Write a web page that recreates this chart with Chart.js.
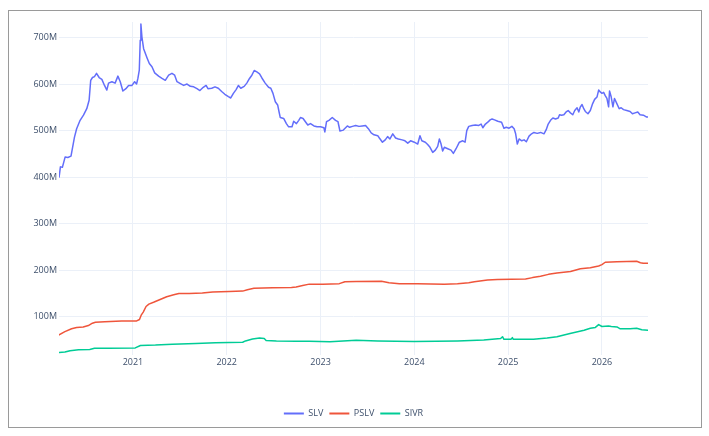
<!DOCTYPE html>
<html>
<head>
<meta charset="utf-8">
<script src="https://cdn.jsdelivr.net/npm/chart.js@4/dist/chart.umd.min.js"></script>
<style>
  html, body { margin: 0; padding: 0; background: #fff; }
  #wrap { position: relative; width: 709px; height: 436px; }
  #frame { position: absolute; left: 8px; top: 10px; width: 694px; height: 418px; border: 1px solid #9a9a9a; box-sizing: border-box; pointer-events: none; }
  canvas { position: absolute; left: 0; top: 0; }
</style>
</head>
<body>
<div id="wrap">
  <canvas id="c" width="709" height="436"></canvas>
  <div id="frame"></div>
</div>
<script>
// Series names
const seriesNames = ["SLV", "PSLV", "SIVR"];
const seriesColors = ["#636efa", "#EF553B", "#00cc96"];

// Tick labels
const yTickValues = [100, 200, 300, 400, 500, 600, 700]; // millions
const xTickYears = [2021, 2022, 2023, 2024, 2025, 2026];

// SLV (x = decimal year, y = millions)
const slvX = [2020.213,2020.227,2020.248,2020.277,2020.306,2020.34,2020.377,2020.40,2020.437,2020.473,2020.508,2020.533,2020.55,2020.569,2020.59,2020.612,2020.64,2020.669,2020.697,2020.722,2020.74,2020.776,2020.81,2020.84,2020.865,2020.893,2020.925,2020.954,2020.99,2021.018,2021.039,2021.053,2021.068,2021.078,2021.085,2021.096,2021.114,2021.132,2021.153,2021.175,2021.203,2021.232,2021.274,2021.31,2021.345,2021.381,2021.416,2021.445,2021.47,2021.506,2021.541,2021.577,2021.612,2021.648,2021.683,2021.714,2021.75,2021.78,2021.80,2021.84,2021.875,2021.91,2021.946,2021.98,2022.018,2022.043,2022.071,2022.1,2022.125,2022.15,2022.186,2022.214,2022.243,2022.268,2022.293,2022.321,2022.35,2022.375,2022.41,2022.446,2022.47,2022.493,2022.518,2022.543,2022.557,2022.571,2022.607,2022.636,2022.66,2022.696,2022.714,2022.743,2022.768,2022.786,2022.814,2022.839,2022.864,2022.893,2022.93,2022.964,2023.0,2023.036,2023.046,2023.064,2023.09,2023.125,2023.16,2023.186,2023.207,2023.243,2023.286,2023.31,2023.34,2023.375,2023.41,2023.445,2023.48,2023.51,2023.54,2023.57,2023.61,2023.627,2023.66,2023.69,2023.715,2023.74,2023.77,2023.80,2023.83,2023.87,2023.9,2023.93,2023.96,2024.0,2024.036,2024.06,2024.08,2024.117,2024.142,2024.167,2024.196,2024.224,2024.249,2024.267,2024.285,2024.302,2024.32,2024.356,2024.391,2024.416,2024.445,2024.48,2024.516,2024.541,2024.559,2024.58,2024.616,2024.651,2024.687,2024.712,2024.73,2024.758,2024.783,2024.808,2024.829,2024.855,2024.89,2024.93,2024.955,2024.98,2025.01,2025.04,2025.064,2025.08,2025.098,2025.117,2025.145,2025.17,2025.194,2025.223,2025.25,2025.275,2025.31,2025.346,2025.382,2025.406,2025.427,2025.452,2025.477,2025.505,2025.534,2025.548,2025.569,2025.594,2025.618,2025.64,2025.664,2025.689,2025.71,2025.735,2025.753,2025.77,2025.788,2025.806,2025.823,2025.851,2025.876,2025.901,2025.922,2025.947,2025.965,2025.982,2026.0,2026.018,2026.035,2026.053,2026.071,2026.081,2026.099,2026.117,2026.134,2026.159,2026.184,2026.205,2026.23,2026.265,2026.3,2026.325,2026.353,2026.382,2026.406,2026.442,2026.477,2026.49];
const slvY = [400,422,421,443,442,445,486,504,522,533,547,565,608,614,616,623,614,610,597,587,602,605,602,617,605,585,590,597,597,605,600,612,630,694,729,701,676,666,655,644,637,624,617,612,608,619,623,619,605,601,597,600,595,594,590,586,593,597,590,591,594,591,584,578,573,570,580,588,597,591,595,602,612,619,629,626,622,613,602,593,591,580,562,555,541,528,526,515,508,508,520,515,522,528,526,519,512,515,510,508,508,506,497,519,522,528,522,519,499,501,510,507,509,511,509,510,511,504,495,491,489,484,475,480,487,482,493,484,482,480,478,473,478,475,471,489,478,475,470,464,453,458,466,482,471,456,464,461,458,451,461,475,478,475,500,509,511,512,511,514,506,514,518,523,525,523,520,518,505,507,505,509,504,493,471,482,478,480,476,488,493,496,494,496,493,502,514,522,527,525,527,534,533,534,540,543,538,534,543,549,540,551,556,547,541,536,543,558,567,572,587,583,580,582,575,569,551,585,572,551,569,558,547,549,545,543,541,536,538,540,534,533,529,529];

// PSLV
const pslvX = [2020.213,2020.275,2020.346,2020.40,2020.47,2020.525,2020.568,2020.60,2020.70,2020.88,2021.04,2021.07,2021.09,2021.11,2021.14,2021.17,2021.22,2021.29,2021.36,2021.435,2021.49,2021.6,2021.74,2021.85,2022.025,2022.17,2022.22,2022.29,2022.49,2022.69,2022.74,2022.81,2022.88,2023.025,2023.2,2023.26,2023.38,2023.65,2023.73,2023.84,2024.035,2024.32,2024.46,2024.58,2024.64,2024.78,2024.885,2025.186,2025.26,2025.345,2025.43,2025.52,2025.665,2025.77,2025.876,2025.965,2026.0,2026.035,2026.16,2026.37,2026.41,2026.44,2026.49];
const pslvY = [61,68,74,77,78,81,86,88,89,91,91,94,104,110,122,127,131,137,143,147,150,150,151,153,154,155,158,161,162,163,164,167,170,170,171,175,175.5,176,173,171,171,170,171,173,175,179,180,181,184,187,191,194,197,203,205,209,212,217,218,219,216,215,215];

// SIVR
const sivrX = [2020.213,2020.275,2020.33,2020.42,2020.54,2020.59,2020.74,2021.025,2021.08,2021.24,2021.42,2021.67,2021.88,2022.17,2022.2,2022.275,2022.35,2022.4,2022.42,2022.53,2022.74,2022.88,2023.1,2023.24,2023.38,2023.61,2024.0,2024.46,2024.74,2024.92,2024.94,2024.955,2025.03,2025.045,2025.055,2025.27,2025.416,2025.52,2025.66,2025.81,2025.876,2025.93,2025.965,2026.0,2026.07,2026.1,2026.16,2026.195,2026.3,2026.37,2026.425,2026.49];
const sivrY = [23,24,27,29,29.5,32,32,33,38,39,41,42.5,44,45,48,52,54,53,49,48,47.5,47,46,48,49.5,48,46.5,48,50,53,57,51.5,51.5,55,51.5,51.5,54,57,64,71,75,77,83,79,80,79,78,74,74,75,72,71];

const toPoints = (xs, ys) => xs.map((x, i) => ({ x: x, y: ys[i] }));

const textColor = "#3d4f6b";
const gridColor = "#EBF0F8";
const fontFamily = "'Open Sans', sans-serif";

new Chart(document.getElementById("c"), {
  type: "line",
  data: {
    datasets: [
      { label: seriesNames[0], data: toPoints(slvX, slvY), borderColor: seriesColors[0], backgroundColor: seriesColors[0] },
      { label: seriesNames[1], data: toPoints(pslvX, pslvY), borderColor: seriesColors[1], backgroundColor: seriesColors[1] },
      { label: seriesNames[2], data: toPoints(sivrX, sivrY), borderColor: seriesColors[2], backgroundColor: seriesColors[2] }
    ]
  },
  options: {
    responsive: false,
    animation: false,
    devicePixelRatio: 1,
    elements: {
      line: { borderWidth: 1.5, tension: 0, borderJoinStyle: "round", borderCapStyle: "round" },
      point: { radius: 0, hoverRadius: 0 }
    },
    layout: { padding: { left: 0, right: 61, top: 22, bottom: 8 } },
    scales: {
      x: {
        type: "linear",
        min: 2020.212,
        max: 2026.491,
        afterFit: (s) => { s.height = 48; },
        afterBuildTicks: (s) => { s.ticks = xTickYears.map(v => ({ value: v })); },
        ticks: {
          padding: 2,
          color: textColor,
          font: { family: fontFamily, size: 9 },
          maxRotation: 0,
          callback: (v) => String(v)
        },
        grid: { color: gridColor, lineWidth: 1, drawTicks: false },
        border: { display: false }
      },
      y: {
        type: "linear",
        min: 17.7,
        max: 733.3,
        afterFit: (s) => { s.width = 59; },
        afterBuildTicks: (s) => { s.ticks = yTickValues.map(v => ({ value: v })); },
        ticks: {
          padding: 2,
          color: textColor,
          font: { family: fontFamily, size: 9 },
          callback: (v) => v + "M"
        },
        grid: { color: gridColor, lineWidth: 1, drawTicks: false },
        border: { display: false }
      }
    },
    plugins: {
      tooltip: { enabled: false },
      legend: {
        position: "bottom",
        fullSize: false,
        labels: {
          boxWidth: 20,
          boxHeight: 2,
          padding: 6,
          color: textColor,
          font: { family: fontFamily, size: 9 },
          generateLabels: (chart) => {
            const items = Chart.defaults.plugins.legend.labels.generateLabels(chart);
            items.forEach(it => { it.fillStyle = it.strokeStyle; it.lineWidth = 0; });
            return items;
          }
        }
      }
    }
  }
});
</script>
</body>
</html>
